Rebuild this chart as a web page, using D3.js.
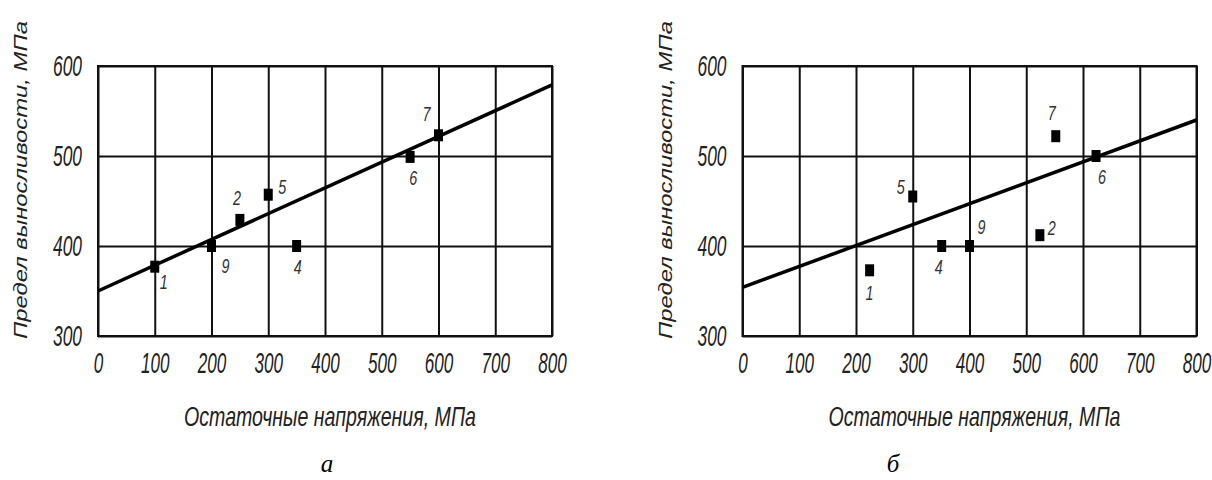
<!DOCTYPE html>
<style>
body { margin: 0; background: #fff; }
.grid line, .grid path { stroke: #111; stroke-width: 2; }
.tick text { font-family: "Liberation Sans", Arial, sans-serif; font-style: italic; fill: #222; }
</style>
<svg width="1212" height="480"></svg>
<script src="https://d3js.org/d3.v7.min.js"></script>
<script>

var xTicks = [0, 100, 200, 300, 400, 500, 600, 700, 800],
    yTicks = [300, 400, 500, 600];

// panel a: points (label offsets dx, dy are from the marker)
var ptsA = [
  {n: "1", x: 100, y: 377, dx: 9, dy: 15},
  {n: "9", x: 200, y: 400, dx: 14, dy: 19},
  {n: "2", x: 250, y: 429, dx: -3, dy: -22},
  {n: "5", x: 300, y: 457, dx: 14, dy: -8},
  {n: "4", x: 350, y: 400, dx: 1, dy: 20},
  {n: "6", x: 550, y: 499, dx: 3, dy: 21},
  {n: "7", x: 600, y: 523, dx: -12, dy: -22}
];
var lineA = [[0, 350], [800, 579]];

// panel б
var ptsB = [
  {n: "1", x: 224, y: 373, dx: 0, dy: 22},
  {n: "5", x: 300, y: 455, dx: -12, dy: -10},
  {n: "4", x: 351, y: 400, dx: -3, dy: 20},
  {n: "9", x: 400, y: 400, dx: 12, dy: -20},
  {n: "2", x: 524, y: 412, dx: 12, dy: -8},
  {n: "7", x: 552, y: 522, dx: -4, dy: -24},
  {n: "6", x: 623, y: 500, dx: 6, dy: 20}
];
var lineB = [[0, 354], [800, 540]];

var svg = d3.select("svg");

function panel(left, pts, line, caption, capX) {
  var x = d3.scaleLinear().domain([0, 800]).range([left, left + 454]),
      y = d3.scaleLinear().domain([300, 600]).range([336, 66]),
      g = svg.append("g");

  g.append("g")
      .attr("class", "grid")
      .attr("transform", "translate(0,336)")
      .call(d3.axisBottom(x).tickValues(xTicks).tickSize(-270).tickFormat(d3.format("d")))
      .call(function(a) { a.select(".domain").remove(); })
      .selectAll("text")
      .attr("font-size", 30)
      .attr("y", 37).attr("dy", null)
      .attr("textLength", function(d) { return String(d).length * 9.5; })
      .attr("lengthAdjust", "spacingAndGlyphs");

  g.append("g")
      .attr("class", "grid")
      .attr("transform", "translate(" + left + ",0)")
      .call(d3.axisLeft(y).tickValues(yTicks).tickSize(-454).tickPadding(16))
      .call(function(a) { a.select(".domain").remove(); })
      .selectAll("text")
      .attr("font-size", 30)
      .attr("textLength", 29)
      .attr("lengthAdjust", "spacingAndGlyphs");

  g.append("rect")
      .attr("x", left).attr("y", 66).attr("width", 454).attr("height", 270)
      .attr("fill", "none").attr("stroke", "#111").attr("stroke-width", 2);

  g.append("line")
      .attr("x1", x(line[0][0])).attr("y1", y(line[0][1]))
      .attr("x2", x(line[1][0])).attr("y2", y(line[1][1]))
      .attr("stroke", "#000").attr("stroke-width", 3.5);

  g.selectAll(".pt").data(pts).enter().append("rect")
      .attr("x", function(d) { return x(d.x) - 4.5; })
      .attr("y", function(d) { return y(d.y) - 6; })
      .attr("width", 9).attr("height", 12)
      .attr("fill", "#000");

  g.selectAll(".lbl").data(pts).enter().append("text")
      .attr("x", function(d) { return x(d.x) + d.dx; })
      .attr("y", function(d) { return y(d.y) + d.dy; })
      .attr("dy", "0.36em")
      .attr("text-anchor", "middle")
      .attr("font-family", "Liberation Sans, Arial, sans-serif")
      .attr("font-style", "italic")
      .attr("font-size", 21)
      .attr("textLength", 8)
      .attr("lengthAdjust", "spacingAndGlyphs")
      .attr("fill", "#333")
      .text(function(d) { return d.n; });

  g.append("text")
      .attr("x", left + 232).attr("y", 426)
      .attr("text-anchor", "middle")
      .attr("font-family", "Liberation Sans, Arial, sans-serif")
      .attr("font-style", "italic")
      .attr("font-size", 28)
      .attr("textLength", 292)
      .attr("lengthAdjust", "spacingAndGlyphs")
      .attr("fill", "#222")
      .text("Остаточные напряжения, МПа");

  g.append("text")
      .attr("transform", "translate(" + (left - 71) + ",180) rotate(-90)")
      .attr("text-anchor", "middle")
      .attr("font-family", "Liberation Sans, Arial, sans-serif")
      .attr("font-style", "italic")
      .attr("font-size", 19)
      .attr("textLength", 318)
      .attr("lengthAdjust", "spacingAndGlyphs")
      .attr("fill", "#222")
      .text("Предел выносливости, МПа");

  g.append("text")
      .attr("x", capX).attr("y", 472)
      .attr("text-anchor", "middle")
      .attr("font-family", "Liberation Serif, Times New Roman, serif")
      .attr("font-style", "italic")
      .attr("font-size", 25)
      .attr("fill", "#000")
      .text(caption);
}

panel(98, ptsA, lineA, "а", 327);
panel(742.5, ptsB, lineB, "б", 893);

</script>
